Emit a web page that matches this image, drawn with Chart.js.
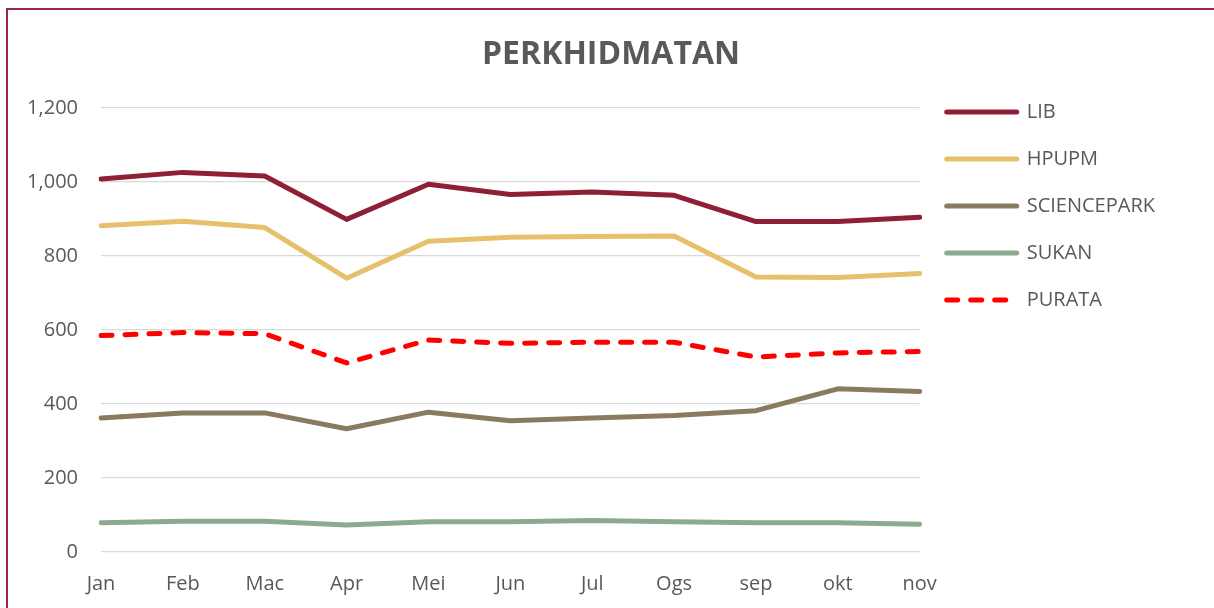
<!DOCTYPE html>
<html>
<head>
<meta charset="utf-8">
<script src="https://cdn.jsdelivr.net/npm/chart.js@4/dist/chart.umd.min.js"></script>
<style>
  html, body { margin: 0; padding: 0; background: #ffffff; overflow: hidden; }
  #wrap { position: relative; width: 1214px; height: 608px; }
  #frame { position: absolute; left: 6px; top: 8px; width: 1230px; height: 640px; border: 2px solid #9b2540; box-sizing: border-box; pointer-events: none; }
  #c { position: absolute; left: 0; top: 0; }
</style>
</head>
<body>
<div id="wrap">
  <canvas id="c" width="1214" height="608"></canvas>
  <div id="frame"></div>
</div>
<script>
const months = ['Jan', 'Feb', 'Mac', 'Apr', 'Mei', 'Jun', 'Jul', 'Ogs', 'sep', 'okt', 'nov'];
const lib = [1008, 1026, 1016, 899, 994, 966, 973, 964, 893, 893, 905];
const hpupm = [882, 894, 877, 740, 840, 851, 853, 854, 743, 742, 753];
const sciencepark = [362, 376, 376, 333, 378, 355, 362, 369, 382, 441, 434];
const sukan = [79, 83, 83, 73, 82, 82, 85, 82, 79, 79, 75];
const purata = [585, 593, 590, 511, 573, 564, 567, 567, 527, 538, 542];
const yTicks = [0, 200, 400, 600, 800, 1000, 1200];

const FONT = "'Open Sans', sans-serif";
const TXT = '#595959';
const TITLE_CENTER_X = 611;

function ds(label, data, color, dash) {
  return {
    label, data,
    borderColor: color, backgroundColor: color,
    borderWidth: 5, borderCapStyle: 'round', borderJoinStyle: 'round',
    borderDash: dash || [], pointRadius: 0, pointHoverRadius: 0,
    tension: 0, fill: false
  };
}

const titleCenter = {
  id: 'titleCenter',
  afterLayout(chart) {
    const t = chart.titleBlock;
    if (!t) return;
    const half = (t.right - t.left) / 2;
    t.left = TITLE_CENTER_X - half;
    t.right = TITLE_CENTER_X + half;
  }
};

new Chart(document.getElementById('c'), {
  type: 'line',
  data: {
    labels: months,
    datasets: [
      ds('LIB', lib, '#8e1f34'),
      ds('HPUPM', hpupm, '#e6c06b'),
      ds('SCIENCEPARK', sciencepark, '#8a7b5f'),
      ds('SUKAN', sukan, '#8cab8c'),
      ds('PURATA', purata, '#ff0000', [11, 13])
    ]
  },
  plugins: [titleCenter],
  options: {
    responsive: false,
    animation: false,
    events: [],
    layout: { padding: { left: 26, right: 49, top: 10, bottom: -8 } },
    scales: {
      x: {
        offset: false,
        grid: { display: false, drawTicks: false },
        border: { display: false },
        ticks: { color: TXT, font: { family: FONT, size: 20 }, padding: 20, maxRotation: 0, autoSkip: false }
      },
      y: {
        min: 0, max: 1200,
        afterBuildTicks: (scale) => { scale.ticks = yTicks.map(v => ({ value: v })); },
        afterFit: (scale) => { scale.width = 75; },
        grid: { color: '#d9d9d9', lineWidth: 1.3, drawTicks: false },
        border: { display: false },
        ticks: {
          color: TXT, font: { family: FONT, size: 20 }, padding: 23,
          callback: (v) => v.toLocaleString('en-US')
        }
      }
    },
    plugins: {
      tooltip: { enabled: false },
      title: {
        display: true, text: 'PERKHIDMATAN', color: TXT,
        font: { family: FONT, size: 32, weight: 'bold' },
        padding: { top: 26, bottom: 33.6 }
      },
      legend: {
        position: 'right', align: 'start', fullSize: true,
        title: { display: true, text: '', font: { size: 12 }, padding: { top: 50.6, bottom: 0 } },
        labels: {
          usePointStyle: true, pointStyle: 'line', pointStyleWidth: 70,
          color: TXT, font: { family: FONT, size: 20 }, padding: 27,
          generateLabels(chart) {
            const items = Chart.defaults.plugins.legend.labels.generateLabels(chart);
            items.forEach(it => {
              const d = chart.data.datasets[it.datasetIndex];
              it.lineDash = d.borderDash;
              it.lineCap = 'round';
              it.lineWidth = 5;
              it.strokeStyle = d.borderColor;
              it.fillStyle = d.borderColor;
            });
            return items;
          }
        }
      }
    }
  }
});
</script>
</body>
</html>
